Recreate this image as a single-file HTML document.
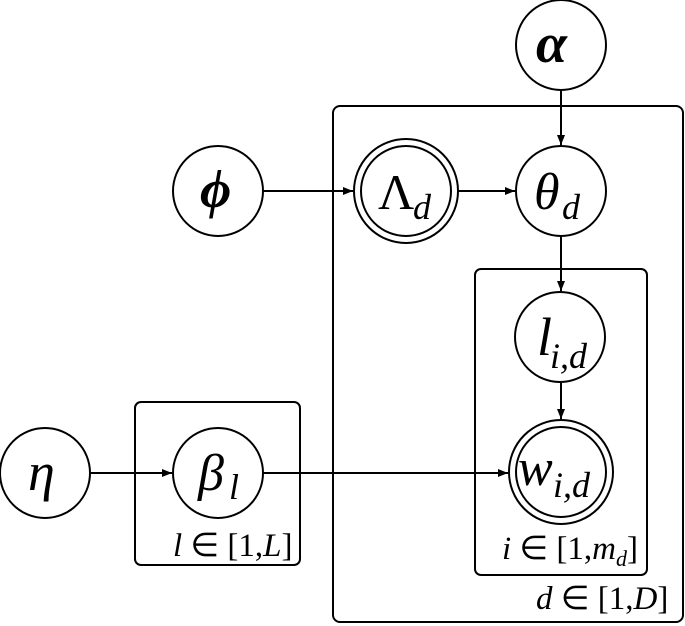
<!DOCTYPE html>
<html><head><meta charset="utf-8"><style>body{margin:0;background:#fff}svg{display:block}text{font-family:"Liberation Serif",serif;font-style:italic;fill:#000}.n{font-style:normal}</style></head>
<body>
<svg width="685" height="626" viewBox="0 0 685 626" xmlns="http://www.w3.org/2000/svg">
<defs><marker id="a" markerWidth="10" markerHeight="8" refX="10" refY="4" orient="auto" markerUnits="userSpaceOnUse"><path d="M0,0 L10,4 L0,8 Z" fill="#000"/></marker></defs>
<g fill="none" stroke="#000" stroke-width="2">
<rect x="333" y="106" width="350" height="516" rx="7"/>
<rect x="475" y="269" width="172" height="306" rx="6"/>
<rect x="135" y="402" width="165" height="163" rx="6"/>
<circle cx="561" cy="45" r="45"/>
<circle cx="218" cy="191" r="45"/>
<circle cx="406" cy="191" r="52"/><circle cx="406" cy="191" r="45"/>
<circle cx="561" cy="191" r="45"/>
<circle cx="560" cy="337" r="45"/>
<circle cx="561" cy="472" r="52"/><circle cx="561" cy="472" r="45"/>
<circle cx="45" cy="473" r="45"/>
<circle cx="218" cy="473" r="45"/>
<line x1="561" y1="90" x2="561" y2="145" marker-end="url(#a)"/>
<line x1="263" y1="191" x2="353" y2="191" marker-end="url(#a)"/>
<line x1="458" y1="191" x2="515" y2="191" marker-end="url(#a)"/>
<line x1="561" y1="236" x2="561" y2="291" marker-end="url(#a)"/>
<line x1="561" y1="382" x2="561" y2="419" marker-end="url(#a)"/>
<line x1="90" y1="473" x2="172" y2="473" marker-end="url(#a)"/>
<line x1="263" y1="473" x2="508" y2="473" marker-end="url(#a)"/>
</g>
<text x="536" y="62" font-size="56" font-weight="bold">α</text>
<text x="200" y="207" font-size="54" font-weight="bold">ϕ</text>
<text x="378" y="209" font-size="50" class="n">Λ</text><text x="413" y="219" font-size="36">d</text>
<text x="534" y="209" font-size="52">θ</text><text x="562" y="219" font-size="36">d</text>
<text x="537" y="355" font-size="54">l</text><text x="550" y="368" font-size="36">i,d</text>
<text x="518" y="485" font-size="52">w</text><text x="553" y="497" font-size="36">i,d</text>
<text x="28" y="490" font-size="54">η</text>
<text x="198" y="490" font-size="52">β</text><text x="229" y="499" font-size="36">l</text>
<text x="173" y="556" font-size="33">l <tspan class="n">∈ [1,</tspan>L<tspan class="n">]</tspan></text>
<text x="502" y="559" font-size="33">i <tspan class="n">∈ [1,</tspan>m<tspan font-size="22" dy="7">d</tspan><tspan class="n" dy="-7">]</tspan></text>
<text x="536" y="609" font-size="33">d <tspan class="n">∈ [1,</tspan>D<tspan class="n">]</tspan></text>
</svg>
</body></html>
